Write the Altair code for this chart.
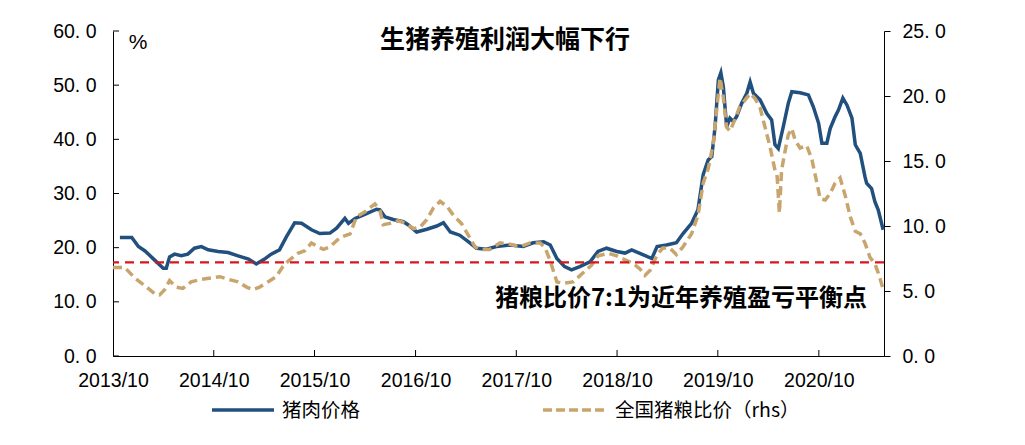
import altair as alt
import pandas as pd

# 猪肉价格 (left axis)
pork_dates = [
    "2013-10-26", "2013-12-08", "2014-01-01", "2014-01-25", "2014-03-01", "2014-04-01",
    "2014-04-12", "2014-04-24", "2014-05-12", "2014-06-05", "2014-06-29", "2014-07-23",
    "2014-08-17", "2014-09-11", "2014-10-17", "2014-11-22", "2014-12-28", "2015-02-04",
    "2015-03-04", "2015-04-03", "2015-04-27", "2015-05-27", "2015-06-21", "2015-07-21",
    "2015-08-15", "2015-09-20", "2015-10-20", "2015-11-26", "2015-12-20", "2016-01-19",
    "2016-02-01", "2016-02-25", "2016-03-25", "2016-05-13", "2016-05-25", "2016-06-12",
    "2016-07-12", "2016-08-18", "2016-09-05", "2016-10-05", "2016-11-11", "2016-12-17",
    "2017-01-10", "2017-02-04", "2017-03-10", "2017-04-10", "2017-05-10", "2017-06-15",
    "2017-07-21", "2017-09-08", "2017-10-26", "2017-12-01", "2018-01-08", "2018-02-01",
    "2018-02-25", "2018-03-25", "2018-04-19", "2018-05-19", "2018-06-25", "2018-07-24",
    "2018-08-24", "2018-09-30", "2018-10-30", "2018-11-23", "2018-12-29", "2019-02-04",
    "2019-02-23", "2019-03-29", "2019-05-04", "2019-05-28", "2019-06-28", "2019-07-21",
    "2019-08-09", "2019-08-27", "2019-09-09", "2019-09-21", "2019-10-03", "2019-10-12",
    "2019-10-21", "2019-11-02", "2019-11-14", "2019-11-26", "2019-12-08", "2019-12-26",
    "2020-01-14", "2020-01-26", "2020-02-07", "2020-03-02", "2020-03-26", "2020-04-13",
    "2020-04-25", "2020-05-07", "2020-05-25", "2020-06-12", "2020-06-25", "2020-07-25",
    "2020-08-24", "2020-09-11", "2020-09-30", "2020-10-12", "2020-10-30", "2020-11-11",
    "2020-11-29", "2020-12-11", "2020-12-27", "2021-01-11", "2021-01-29", "2021-02-10",
    "2021-02-28", "2021-03-17", "2021-03-23", "2021-04-10", "2021-04-22", "2021-05-04",
    "2021-05-22",
]
pork_values = [
    21.9, 21.9, 20.2, 19.4, 17.7, 16.2,
    16.2, 18.3, 18.8, 18.5, 18.8, 19.9,
    20.2, 19.6, 19.3, 19.1, 18.5, 17.9,
    17.0, 17.9, 18.8, 19.6, 22.0, 24.6,
    24.5, 23.3, 22.6, 22.7, 23.6, 25.4,
    24.5, 25.4, 26.0, 27.1, 27.0, 25.7,
    25.2, 24.8, 24.2, 22.9, 23.4, 24.0,
    24.6, 22.9, 22.3, 21.1, 19.9, 19.7,
    20.2, 20.5, 20.2, 20.9, 21.1, 20.5,
    18.0, 16.5, 15.9, 16.5, 17.4, 19.3,
    19.9, 19.3, 19.0, 19.6, 18.8, 18.0,
    20.2, 20.5, 20.9, 22.6, 24.5, 27.0,
    33.5, 36.2, 36.8, 42.3, 51.0, 52.3,
    49.7, 42.3, 43.9, 43.3, 44.2, 46.6,
    48.5, 50.6, 48.5, 47.3, 44.8, 43.6,
    39.0, 38.3, 42.3, 46.6, 48.8, 48.6,
    48.2, 46.0, 43.0, 39.3, 39.3, 42.0,
    44.2, 45.4, 47.6, 46.3, 43.9, 39.0,
    37.4, 33.1, 31.9, 30.9, 28.5, 27.0,
    23.3,
]

# 全国猪粮比价 (right axis)
ratio_dates = [
    "2013-10-01", "2013-11-13", "2013-12-19", "2014-01-25", "2014-03-01", "2014-03-19",
    "2014-04-06", "2014-04-24", "2014-05-18", "2014-06-11", "2014-07-11", "2014-08-17",
    "2014-09-23", "2014-10-23", "2014-11-22", "2014-12-28", "2015-01-28", "2015-02-21",
    "2015-03-16", "2015-04-15", "2015-05-15", "2015-06-09", "2015-07-03", "2015-08-02",
    "2015-08-27", "2015-09-20", "2015-10-14", "2015-11-02", "2015-11-26", "2016-01-01",
    "2016-02-07", "2016-03-01", "2016-04-01", "2016-05-07", "2016-05-25", "2016-06-06",
    "2016-06-30", "2016-07-30", "2016-08-30", "2016-09-23", "2016-10-17", "2016-11-11",
    "2016-12-05", "2016-12-29", "2017-01-23", "2017-02-16", "2017-03-16", "2017-04-10",
    "2017-05-04", "2017-05-22", "2017-06-27", "2017-08-03", "2017-09-08", "2017-10-14",
    "2017-11-20", "2017-12-26", "2018-01-14", "2018-02-01", "2018-02-25", "2018-03-19",
    "2018-04-25", "2018-05-31", "2018-07-01", "2018-07-24", "2018-08-30", "2018-09-30",
    "2018-10-30", "2018-11-29", "2018-12-23", "2019-01-10", "2019-01-29", "2019-02-23",
    "2019-03-16", "2019-04-10", "2019-05-04", "2019-05-28", "2019-06-28", "2019-07-21",
    "2019-08-09", "2019-08-27", "2019-09-15", "2019-09-29", "2019-10-09", "2019-10-21",
    "2019-11-02", "2019-11-14", "2019-12-02", "2019-12-20", "2020-01-08", "2020-01-26",
    "2020-02-13", "2020-03-02", "2020-03-20", "2020-04-07", "2020-04-25", "2020-05-03",
    "2020-05-11", "2020-05-19", "2020-06-01", "2020-06-12", "2020-06-25", "2020-07-07",
    "2020-07-25", "2020-08-18", "2020-09-06", "2020-09-24", "2020-10-06", "2020-10-24",
    "2020-11-11", "2020-11-29", "2020-12-17", "2021-01-05", "2021-01-23", "2021-02-10",
    "2021-02-28", "2021-03-17", "2021-04-04", "2021-04-22", "2021-05-04", "2021-05-20",
]
ratio_values = [
    6.8, 6.8, 6.0, 5.4, 4.8, 4.7,
    5.1, 5.8, 5.3, 5.2, 5.7, 5.9,
    6.0, 6.1, 5.9, 5.7, 5.3, 5.1,
    5.3, 5.7, 6.1, 6.9, 7.4, 7.9,
    8.1, 8.7, 8.4, 8.2, 8.4, 9.1,
    9.4, 10.7, 11.1, 11.7, 11.2, 10.1,
    10.2, 10.4, 10.2, 9.8, 9.9, 10.5,
    11.4, 11.9, 11.5, 10.8, 10.2, 9.3,
    8.4, 8.2, 8.2, 8.7, 8.6, 8.4,
    8.7, 8.7, 8.3, 7.3, 5.7, 5.6,
    5.7, 6.4, 7.0, 7.7, 7.9, 7.7,
    7.4, 7.1, 6.7, 6.2, 6.6, 7.8,
    8.3, 8.3, 7.8, 8.4, 9.4, 10.8,
    13.3, 14.4, 16.4, 19.4, 21.4, 19.9,
    17.6, 17.3, 18.2, 19.2, 19.7, 20.2,
    19.8, 19.1, 17.6, 16.1, 14.3, 13.8,
    11.0, 14.3, 15.8, 17.0, 17.5, 16.6,
    16.0, 16.2, 15.1, 13.3, 12.1, 12.0,
    12.5, 13.3, 13.7, 12.3, 10.7, 9.6,
    9.4, 8.7, 7.6, 7.1, 6.4, 5.3,
]

breakeven = [7.2]
left_ticks = [0, 10, 20, 30, 40, 50, 60]
right_ticks = [0, 5, 10, 15, 20, 25]
tick_years = [2013, 2014, 2015, 2016, 2017, 2018, 2019, 2020]
series_names = ["猪肉价格", "全国猪粮比价（rhs）"]

title_text = "生猪养殖利润大幅下行"
unit_text = "%"
note_text = "猪粮比价7:1为近年养殖盈亏平衡点"

BLUE = "#22507E"
TAN = "#C9A56E"
RED = "#D8141C"
CJK = "Noto Sans CJK SC"
NUM = "Liberation Sans"
W, H = 771, 325
LABEL_EXPR = "replace(format(datum.value, '.1f'), '.', '. ')"

pork = pd.DataFrame({"date": pd.to_datetime(pork_dates), "value": pork_values})
ratio = pd.DataFrame({"date": pd.to_datetime(ratio_dates), "value": ratio_values})

x_scale = alt.Scale(domain=[alt.DateTime(year=2013, month=10, date=1),
                            alt.DateTime(year=2021, month=5, date=25)])
left_scale = alt.Scale(domain=[0, 60])
right_scale = alt.Scale(domain=[0, 25])

x_axis = alt.Axis(
    values=[alt.DateTime(year=y, month=10, date=1) for y in tick_years],
    format="%Y/%m", ticks=False, labelPadding=15, labelFont=NUM,
    labelFontSize=19.5, labelColor="black", domainColor="black", grid=False,
    labelFlush=False, labelOverlap=False,
)
left_axis = alt.Axis(
    orient="left", values=left_ticks, ticks=False, labelPadding=17,
    labelFont=NUM, labelFontSize=19.5, labelColor="black", domainColor="black",
    grid=False, labelExpr=LABEL_EXPR, labelFlush=False,
)
right_axis = alt.Axis(
    orient="right", values=right_ticks, tickSize=6, tickColor="black",
    labelPadding=12, labelFont=NUM, labelFontSize=19.5, labelColor="black",
    domainColor="black", grid=False, labelExpr=LABEL_EXPR, labelFlush=False,
)


def x_enc(field="date:T"):
    return alt.X(field, scale=x_scale, axis=x_axis, title=None)


blue_line = alt.Chart(pork).mark_line(strokeWidth=3.5, color=BLUE).encode(
    x=x_enc(),
    y=alt.Y("value:Q", scale=left_scale, axis=left_axis, title=None),
)

# inward tick marks on the left and bottom axes
left_tick_marks = alt.Chart(pd.DataFrame({"v": left_ticks})).mark_rule(
    color="black").encode(
    y=alt.Y("v:Q", scale=left_scale, axis=left_axis, title=None),
    x=alt.value(0), x2=alt.value(6),
)
x_tick_marks = alt.Chart(pd.DataFrame({"date": pd.to_datetime(
    [f"{y}-10-01" for y in tick_years[1:]])})).mark_rule(color="black").encode(
    x=x_enc(), y=alt.value(H - 6), y2=alt.value(H),
)


def label(text, x, y, size, font=CJK, bold=False, align="center"):
    return alt.Chart(pd.DataFrame({"t": [text]})).mark_text(
        font=font, fontSize=size, fontWeight="bold" if bold else "normal",
        color="black", baseline="middle", align=align,
    ).encode(text="t:N", x=alt.value(x), y=alt.value(y))


title_mark = label(title_text, 392, 9, 25, bold=True)
unit_mark = label(unit_text, 25, 12, 21, font=NUM)
note_mark = label(note_text, 568, 268, 24, bold=True)

# legend drawn below the plot
legend_blue = alt.Chart(pd.DataFrame({"s": [series_names[0]]})).mark_rule(
    color=BLUE, strokeWidth=3.5).encode(
    x=alt.value(99), x2=alt.value(161), y=alt.value(379))
legend_tan = alt.Chart(pd.DataFrame({"s": [series_names[1]]})).mark_rule(
    color=TAN, strokeWidth=3.5, strokeDash=[9, 4]).encode(
    x=alt.value(430), x2=alt.value(492), y=alt.value(379))
legend_blue_text = label(series_names[0], 169, 380, 19.5, align="left")
legend_tan_text = label(series_names[1], 502, 380, 19.5, align="left")

left = alt.layer(blue_line, left_tick_marks, x_tick_marks, title_mark, unit_mark,
                 note_mark, legend_blue, legend_tan, legend_blue_text, legend_tan_text)

tan_line = alt.Chart(ratio).mark_line(strokeWidth=3.5, color=TAN, strokeDash=[9, 5]).encode(
    x=x_enc(),
    y=alt.Y("value:Q", scale=right_scale, axis=right_axis, title=None),
)
red_rule = alt.Chart(pd.DataFrame({"r": breakeven})).mark_rule(
    color=RED, strokeWidth=2.2, strokeDash=[9, 6]
).encode(y=alt.Y("r:Q", scale=right_scale, axis=right_axis, title=None))

right = alt.layer(tan_line, red_rule)

chart = alt.layer(left, right).resolve_scale(y="independent").properties(
    width=W, height=H,
    padding={"left": 105, "top": 23, "right": 130, "bottom": 80},
    autosize=alt.AutoSizeParams(type="none"),
).configure_view(stroke=None)

chart.save("out.html", embed_options={"renderer": "svg", "actions": False})
